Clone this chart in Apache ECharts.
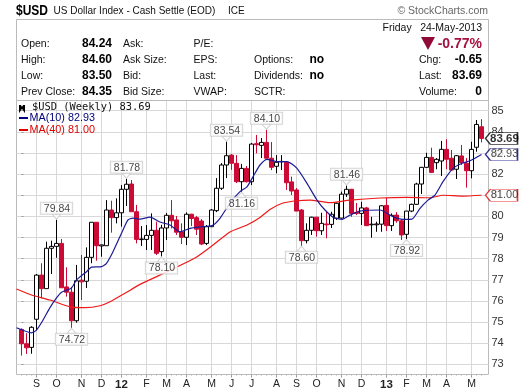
<!DOCTYPE html>
<html><head><meta charset="utf-8">
<style>html,body{margin:0;padding:0;background:#fff}#c{width:520px;height:391px}</style>
<script src="https://cdn.jsdelivr.net/npm/echarts@6/dist/echarts.min.js"></script>
</head><body><div id="c"></div>
<script>
const opens=[74.65,73.97,73.80,75.13,77.22,76.58,78.49,78.58,78.72,76.66,76.41,75.06,76.98,76.93,78.06,79.72,78.60,78.61,80.30,79.94,80.17,81.28,81.53,80.22,78.90,78.91,79.10,79.34,78.33,79.45,80.05,79.83,79.27,79.01,80.10,79.94,79.78,78.72,79.51,80.27,81.33,82.43,82.90,82.51,81.64,82.27,81.64,83.44,83.36,83.50,82.75,82.37,82.58,82.56,81.63,81.25,80.30,78.85,79.34,79.96,79.32,79.64,79.62,79.91,79.92,81.05,81.28,80.19,80.14,80.40,79.60,79.60,79.63,80.52,79.56,80.06,79.79,79.15,80.25,80.57,81.53,82.32,82.79,82.54,82.62,83.17,82.75,82.23,82.86,82.51,82.16,83.27,84.24];
const closes=[73.97,73.78,74.75,77.22,76.58,78.49,78.58,78.72,76.62,76.41,75.06,76.95,76.90,78.06,79.72,78.61,78.65,80.30,79.94,80.17,81.28,81.52,80.22,78.91,78.93,79.10,79.34,78.25,79.45,80.05,79.79,79.25,79.01,80.10,79.90,79.39,78.69,79.51,80.30,81.33,82.43,82.87,82.51,81.64,82.27,81.64,83.42,83.39,83.50,82.75,82.32,82.56,82.60,81.59,81.20,80.25,78.85,79.34,79.96,79.32,79.67,79.60,80.10,80.62,81.05,81.28,80.14,80.14,80.40,79.56,79.63,79.64,80.50,79.56,80.05,79.79,79.12,80.25,80.57,81.53,82.32,82.79,82.08,82.70,83.17,82.70,82.19,82.87,82.54,82.16,83.17,84.35,83.69];
const lows=[73.41,73.49,73.50,74.62,76.12,76.58,77.27,78.04,76.62,76.20,74.72,74.97,76.04,76.61,77.78,77.90,78.09,78.61,79.23,79.67,79.51,80.49,80.22,78.72,78.60,78.41,78.41,78.17,78.10,78.88,79.43,79.12,78.69,78.64,79.54,79.12,78.64,78.64,79.50,80.20,81.25,81.81,82.20,81.58,81.16,81.60,81.48,82.98,82.76,82.75,82.19,82.04,82.19,81.25,81.01,80.25,78.60,78.72,79.12,79.04,79.12,78.96,79.45,79.83,79.90,80.92,79.98,80.06,79.59,79.54,78.99,79.27,79.27,79.31,79.31,79.70,78.88,78.92,80.20,80.55,81.06,82.30,82.08,82.23,81.91,82.23,82.15,81.77,82.43,81.36,81.80,83.06,83.50];
const highs=[74.70,74.47,74.80,77.27,77.78,78.80,78.85,79.84,78.93,77.59,76.66,77.70,78.17,78.53,79.72,79.72,78.66,80.77,80.74,80.85,81.48,81.78,81.72,80.54,79.54,79.59,80.14,79.75,79.60,80.16,80.77,80.02,79.67,80.19,80.12,80.02,79.87,79.59,80.35,81.81,82.52,83.54,82.95,82.90,82.48,82.38,83.47,83.85,83.71,84.10,83.52,82.90,82.90,82.60,81.88,81.34,80.35,79.67,79.98,79.98,80.17,80.22,80.22,80.65,81.17,81.46,81.30,80.63,80.69,80.45,79.98,79.75,80.52,80.87,80.14,80.20,79.85,80.25,80.60,81.59,82.34,83.01,83.25,82.76,83.57,83.65,83.14,82.90,83.38,82.76,83.53,84.56,84.60];
const ma10Weeks=[-1,2,3,4.3,5.7,7,8,10,11,13,14,16,17,18.3,20,21.3,22.3,23.7,25.7,27.7,29.7,31.7,33.7,35.7,38.1,39.7,41.7,43.7,45.1,46.7,47.7,49.1,51.1,53.1,55.1,57.1,59.1,60.7,62.3,64.1,65.7,67.7,71.7,74.3,76.3,78.1,79.7,81.3,82.7,84.3,86.3,88.1,89.7,92];
const ma10Values=[74.73,74.49,74.62,75.09,75.68,76.14,76.41,76.61,76.99,77.38,77.60,77.62,77.78,78.33,79.2,79.83,79.92,79.87,79.96,79.73,79.59,79.27,79.43,79.5,79.56,79.91,80.63,81.17,81.4,82.04,82.43,82.7,82.59,82.59,82.27,81.56,80.77,80.3,79.96,79.86,80.06,80.25,80.3,79.98,79.86,79.87,80.38,80.77,81.01,81.64,82.27,82.51,82.63,82.93];
const ma40Weeks=[-1,2,5.7,9.7,12.7,15.7,17.7,20.7,23.7,30.3,35.1,38.3,41.7,45.1,47.7,49.7,52.3,55.1,57.7,61.7,65.7,71.7,77.1,81.7,84.3,88.3,92];
const ma40Values=[76.56,76.28,76.04,75.72,75.68,75.77,75.96,76.36,76.78,77.51,78.09,78.64,79.26,79.59,79.95,80.33,80.63,80.74,80.77,80.65,80.77,80.87,80.9,80.88,81.0,80.96,81.0];
const monthWeeks=[3,7,12,16,20,25,29,33,38,42,46,51,55,59,64,68,73,77,81,85,90];
const monthLabels=['S','O','N','D','12','F','M','A','M','J','J','A','S','O','N','D','13','F','M','A','M'];
const priceTicks=[73,74,75,76,77,78,79,80,81,82,83,84,85];
const highNotes=[[7,79.84],[21,81.78],[41,83.54],[49,84.10],[65,81.46]];
const lowNotes=[[10,74.72],[28,78.10],[44,81.16],[56,78.60],[77,78.92]];
const tags=[[83.69,'#000','#000','bold'],[82.93,'#00007f','#222','normal'],[81.00,'#e00000','#222','normal']];
const headerRows=[44,60,76,92];
const col1=['Open:','High:','Low:','Prev Close:'];
const col1Values=['84.24','84.60','83.50','84.35'];
const col2=['Ask:','Ask Size:','Bid:','Bid Size:'];
const col3=['P/E:','EPS:','Last:','VWAP:'];
const col4=['Options:','Dividends:','SCTR:'];
const col4Values=['no','no'];
const col5=['Chg:','Last:','Volume:'];
const col5Values=['-0.65','83.69','0'];

const F='"Liberation Sans",Arial,sans-serif';
function T(x,y,text,o){o=o||{};return {type:'text',x:x,y:y,scaleX:o.sx||1,z:20,silent:true,style:{text:text,fill:o.c||'#111',font:(o.w||'normal')+' '+(o.s||10.5)+'px '+(o.f||F),textAlign:o.a||'left',textVerticalAlign:'middle'}};}
const g=[];
g.push({type:'rect',z:1,silent:true,shape:{x:16.5,y:19.5,width:472,height:81},style:{fill:'#fff',stroke:'#bbb',lineWidth:1}});
g.push(T(16,11,'$USD',{w:'bold',s:15,sx:0.8,c:'#000'}));
g.push(T(53.5,11,'US Dollar Index - Cash Settle (EOD)',{s:11,sx:0.91}));
g.push(T(228,11.5,'ICE',{s:10}));
g.push(T(488,11.5,'© StockCharts.com',{a:'right',s:10.5,c:'#666'}));
headerRows.forEach((y,i)=>{
  g.push(T(21,y,col1[i]));
  g.push(T(112,y,col1Values[i],{a:'right',w:'bold',s:12,c:'#000'}));
  g.push(T(123,y,col2[i]));
  g.push(T(193.5,y,col3[i]));
  if(i>0){
    g.push(T(254,y,col4[i-1]));
    if(col4Values[i-1])g.push(T(309.5,y,col4Values[i-1],{w:'bold',s:12,c:'#000'}));
    g.push(T(419,y,col5[i-1]));
    g.push(T(482,y,col5Values[i-1],{a:'right',w:'bold',s:12,c:'#000'}));
  }
});
g.push(T(382.5,28,'Friday'));
g.push(T(482,28,'24-May-2013',{a:'right'}));
g.push({type:'polygon',z:20,silent:true,shape:{points:[[421,37],[435,37],[428,50]]},style:{fill:'#8f0a36'}});
g.push(T(482,44,'-0.77%',{a:'right',w:'bold',s:14,c:'#a5113f'}));
g.push({type:'polyline',z:20,silent:true,shape:{points:[[20,105],[20,110],[22,107],[24,110],[24,105]]},style:{stroke:'#000',lineWidth:2,fill:'none'}});
g.push(T(32,107,'$USD (Weekly) 83.69',{s:10.4,f:'"DejaVu Sans Mono"',c:'#111'}));
g.push({type:'rect',z:20,silent:true,shape:{x:19,y:117,width:9,height:2},style:{fill:'#00007f'}});
g.push(T(29.5,118,'MA(10) 82.93',{c:'#00007f',s:10.8}));
g.push({type:'rect',z:20,silent:true,shape:{x:19,y:129,width:9,height:2},style:{fill:'#e00000'}});
g.push(T(29.5,130,'MA(40) 81.00',{c:'#e00000',s:10.8}));

const xMin=-1,xMax=93.4;
const weekTicks=opens.map((_,i)=>i);
const candles=opens.map((o,i)=>[i,o,closes[i],lows[i],highs[i]]);
const noteStyle=(pos)=>({show:true,position:pos,distance:0,formatter:p=>p.value[1].toFixed(2),color:'#111',fontFamily:F,fontSize:10.5,lineHeight:10,backgroundColor:'#fff',borderColor:'#ccc',borderWidth:1,padding:[1,2,0,3]});
function noteSeries(data,pos,path,off){return {type:'scatter',z:8,data:data,symbol:path,symbolSize:[9,5],symbolOffset:[0,off],silent:true,clip:false,itemStyle:{color:'#fff',borderColor:'#ccc',borderWidth:1},label:noteStyle(pos)};}

const chart=echarts.init(document.getElementById('c'),null,{renderer:'canvas'});
chart.setOption({
  animation:false,
  backgroundColor:'#fff',
  grid:{left:16.5,top:100.5,width:472,height:274,show:true,borderColor:'#bbb',borderWidth:1,backgroundColor:'#fff'},
  xAxis:[{type:'value',min:xMin,max:xMax,
    axisLine:{show:false},
    axisTick:{show:true,length:3,customValues:monthWeeks,lineStyle:{color:'#999'}},
    splitLine:{show:true,lineStyle:{color:'#d8d8d8',width:1}},
    axisLabel:{show:true,margin:4,customValues:monthWeeks,color:'#222',fontFamily:F,fontSize:10.5,
      formatter:v=>{const l=monthLabels[monthWeeks.indexOf(v)];return l.length>1?'{b|'+l+'}':l;},
      rich:{b:{fontWeight:'bold',fontSize:11.5,color:'#222',fontFamily:F}}}},
   {type:'value',min:xMin,max:xMax,position:'bottom',
    axisLine:{show:false},splitLine:{show:false},axisLabel:{show:false},
    axisTick:{show:true,length:1,customValues:weekTicks,lineStyle:{color:'#aaa'}}}],
  yAxis:{type:'value',position:'right',min:72.516,max:85.483,
    axisLine:{show:false},
    axisTick:{show:true,length:2,customValues:priceTicks,lineStyle:{color:'#999'}},
    splitLine:{show:true,lineStyle:{color:'#d8d8d8',width:1}},
    axisLabel:{show:true,margin:3,customValues:priceTicks,color:'#333',fontFamily:F,fontSize:11,formatter:v=>String(v)}},
  graphic:{elements:g},
  series:[
    {type:'candlestick',z:3,data:candles,barWidth:4,encode:{x:0,y:[1,2,3,4]},silent:true,
     itemStyle:{color:'#fff',color0:'#cc0a36',borderColor:'#000',borderColor0:'#cc0a36',borderWidth:1}},
    {type:'line',z:5,data:ma40Weeks.map((w,i)=>[w,ma40Values[i]]),showSymbol:false,silent:true,lineStyle:{color:'#f01818',width:1.2},smooth:0.2},
    {type:'line',z:6,data:ma10Weeks.map((w,i)=>[w,ma10Values[i]]),showSymbol:false,silent:true,lineStyle:{color:'#1c1c96',width:1.2},smooth:0.2},
    noteSeries(highNotes,'top','path://M0 0 L10 0 L5 5 Z',-3),
    noteSeries(lowNotes,'bottom','path://M0 5 L10 5 L5 0 Z',3),
    {type:'scatter',z:9,clip:false,silent:true,
     data:tags.map(t=>({value:[xMax,t[0]],
       itemStyle:{color:'#fff',borderColor:t[1],borderWidth:1},
       label:{show:true,position:'inside',offset:[3,0],formatter:t[0].toFixed(2),color:t[2],fontWeight:t[3],fontFamily:F,fontSize:t[3]==='bold'?11.5:11}})),
     symbol:'path://M0 6 L5 0 L33 0 L33 12 L5 12 Z',symbolSize:[32,12],symbolOffset:[13,0]}
  ]
});
</script></body></html>
